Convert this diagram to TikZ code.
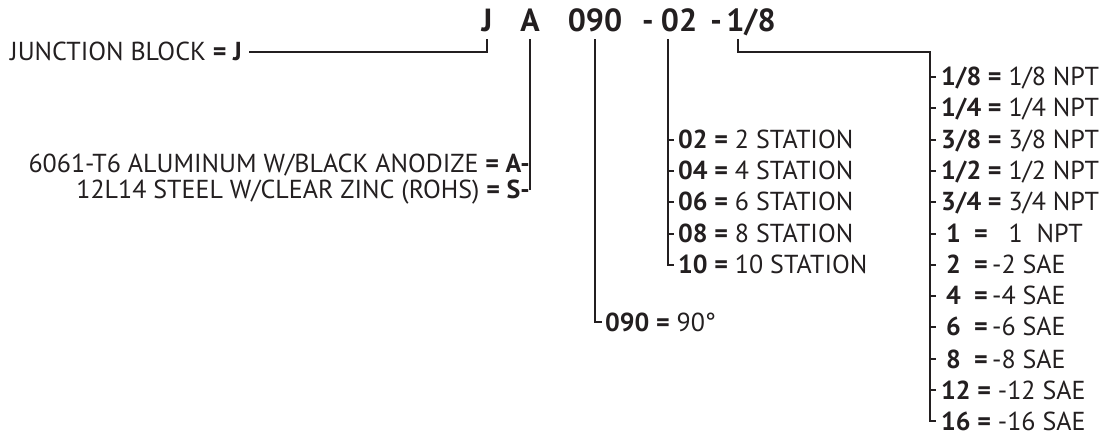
\documentclass[tikz,border=0pt]{standalone}
\usepackage{fontspec}
\setmainfont{PT Sans}
\usepackage{xcolor}
\definecolor{pnink}{RGB}{35,31,32}
\usetikzlibrary{positioning}
\tikzset{
  code/.style={font=\fontsize{32}{36}\selectfont\bfseries, inner sep=0pt, text height=22pt, text depth=0pt, text=pnink},
  item/.style={font=\fontsize{26}{30}\selectfont, inner sep=0pt, text height=18pt, text depth=0pt, text=pnink},
  lead/.style={line width=1.4pt, draw=pnink}
}

\begin{document}
\begin{tikzpicture}[x=1pt, y=-1pt]
  \useasboundingbox (0,0) rectangle (1105,435);
  % part number
  \node[code] (tJ) at (487,21) {J};
  \node[code] (tA) at (530,21) {A};
  \node[code] (t090) at (595,21) {090};
  \node[code] (d1) at (648,21) {-};
  \node[code] (t02) at (679,21) {02};
  \node[code] (d2) at (716,21) {-};
  \node[code] (t18) at (751,21) {1/8};
  % body
  \node[item, anchor=west] (jb) at (10,52) {JUNCTION BLOCK \textbf{= J}};
  % material
  \node[item, anchor=east] (alu) at (530,164) {6061-T6 ALUMINUM W/BLACK ANODIZE \textbf{= A-}};
  \node[item, anchor=east] (stl) at (530,190) {12L14 STEEL W/CLEAR ZINC (ROHS) \textbf{= S-}};
  % angle
  \node[item, anchor=west] (a90) at (605,322) {\textbf{090 =} 90°};
  % stations
  \node[item, anchor=west] (s02) at (678,140) {\textbf{02 =} 2 STATION};
  \node[item, anchor=west] (s04) at (678,171) {\textbf{04 =} 4 STATION};
  \node[item, anchor=west] (s06) at (678,202) {\textbf{06 =} 6 STATION};
  \node[item, anchor=west] (s08) at (678,234) {\textbf{08 =} 8 STATION};
  \node[item, anchor=west] (s10) at (678,265) {\textbf{10 =} 10 STATION};
  % ports
  \node[item, anchor=west] (p1) at (941,77) {\textbf{1/8 =} 1/8 NPT};
  \node[item, anchor=west] (p2) at (941,108) {\textbf{1/4 =} 1/4 NPT};
  \node[item, anchor=west] (p3) at (941,140) {\textbf{3/8 =} 3/8 NPT};
  \node[item, anchor=west] (p4) at (941,171) {\textbf{1/2 =} 1/2 NPT};
  \node[item, anchor=west] (p5) at (941,202) {\textbf{3/4 =} 3/4 NPT};
  \node[item, anchor=west] (p6) at (941,234) {\hspace{5pt}\textbf{1\ \ =}\ \ \ 1\ \ NPT};
  \node[item, anchor=west] (p7) at (941,265) {\hspace{5pt}\textbf{2\ \ =}\,-2 SAE};
  \node[item, anchor=west] (p8) at (941,296) {\hspace{5pt}\textbf{4\ \ =}\,-4 SAE};
  \node[item, anchor=west] (p9) at (941,327) {\hspace{5pt}\textbf{6\ \ =}\,-6 SAE};
  \node[item, anchor=west] (p10) at (941,359) {\hspace{5pt}\textbf{8\ \ =}\,-8 SAE};
  \node[item, anchor=west] (p11) at (941,390) {\textbf{12 =} -12 SAE};
  \node[item, anchor=west] (p12) at (941,421) {\textbf{16 =} -16 SAE};
  \coordinate (rsp) at (930,52);
  % leads
  \draw[lead] ([xshift=7pt]jb.east) -| ([yshift=-7pt]tJ.south);
  \draw[lead] ([yshift=-7pt]tA.south) |- (stl.east);
  \draw[lead] ([yshift=-7pt]t090.south) |- ([xshift=-3pt]a90.west);
  \draw[lead] ([xshift=-11pt,yshift=-7pt]t02.south) |- ([xshift=-4pt]s10.west);
  \draw[lead] (s02.west -| 668,0) -- ([xshift=-4pt]s02.west);
  \draw[lead] (s04.west -| 668,0) -- ([xshift=-4pt]s04.west);
  \draw[lead] (s06.west -| 668,0) -- ([xshift=-4pt]s06.west);
  \draw[lead] (s08.west -| 668,0) -- ([xshift=-4pt]s08.west);
  \draw[lead] ([xshift=-13pt,yshift=-7pt]t18.south) |- (rsp) |- ([xshift=-5pt]p12.west);
  \draw[lead] (rsp |- p1.west) -- ([xshift=-5pt]p1.west);
  \draw[lead] (rsp |- p2.west) -- ([xshift=-5pt]p2.west);
  \draw[lead] (rsp |- p3.west) -- ([xshift=-5pt]p3.west);
  \draw[lead] (rsp |- p4.west) -- ([xshift=-5pt]p4.west);
  \draw[lead] (rsp |- p5.west) -- ([xshift=-5pt]p5.west);
  \draw[lead] (rsp |- p6.west) -- ([xshift=-5pt]p6.west);
  \draw[lead] (rsp |- p7.west) -- ([xshift=-5pt]p7.west);
  \draw[lead] (rsp |- p8.west) -- ([xshift=-5pt]p8.west);
  \draw[lead] (rsp |- p9.west) -- ([xshift=-5pt]p9.west);
  \draw[lead] (rsp |- p10.west) -- ([xshift=-5pt]p10.west);
  \draw[lead] (rsp |- p11.west) -- ([xshift=-5pt]p11.west);
\end{tikzpicture}
\end{document}
